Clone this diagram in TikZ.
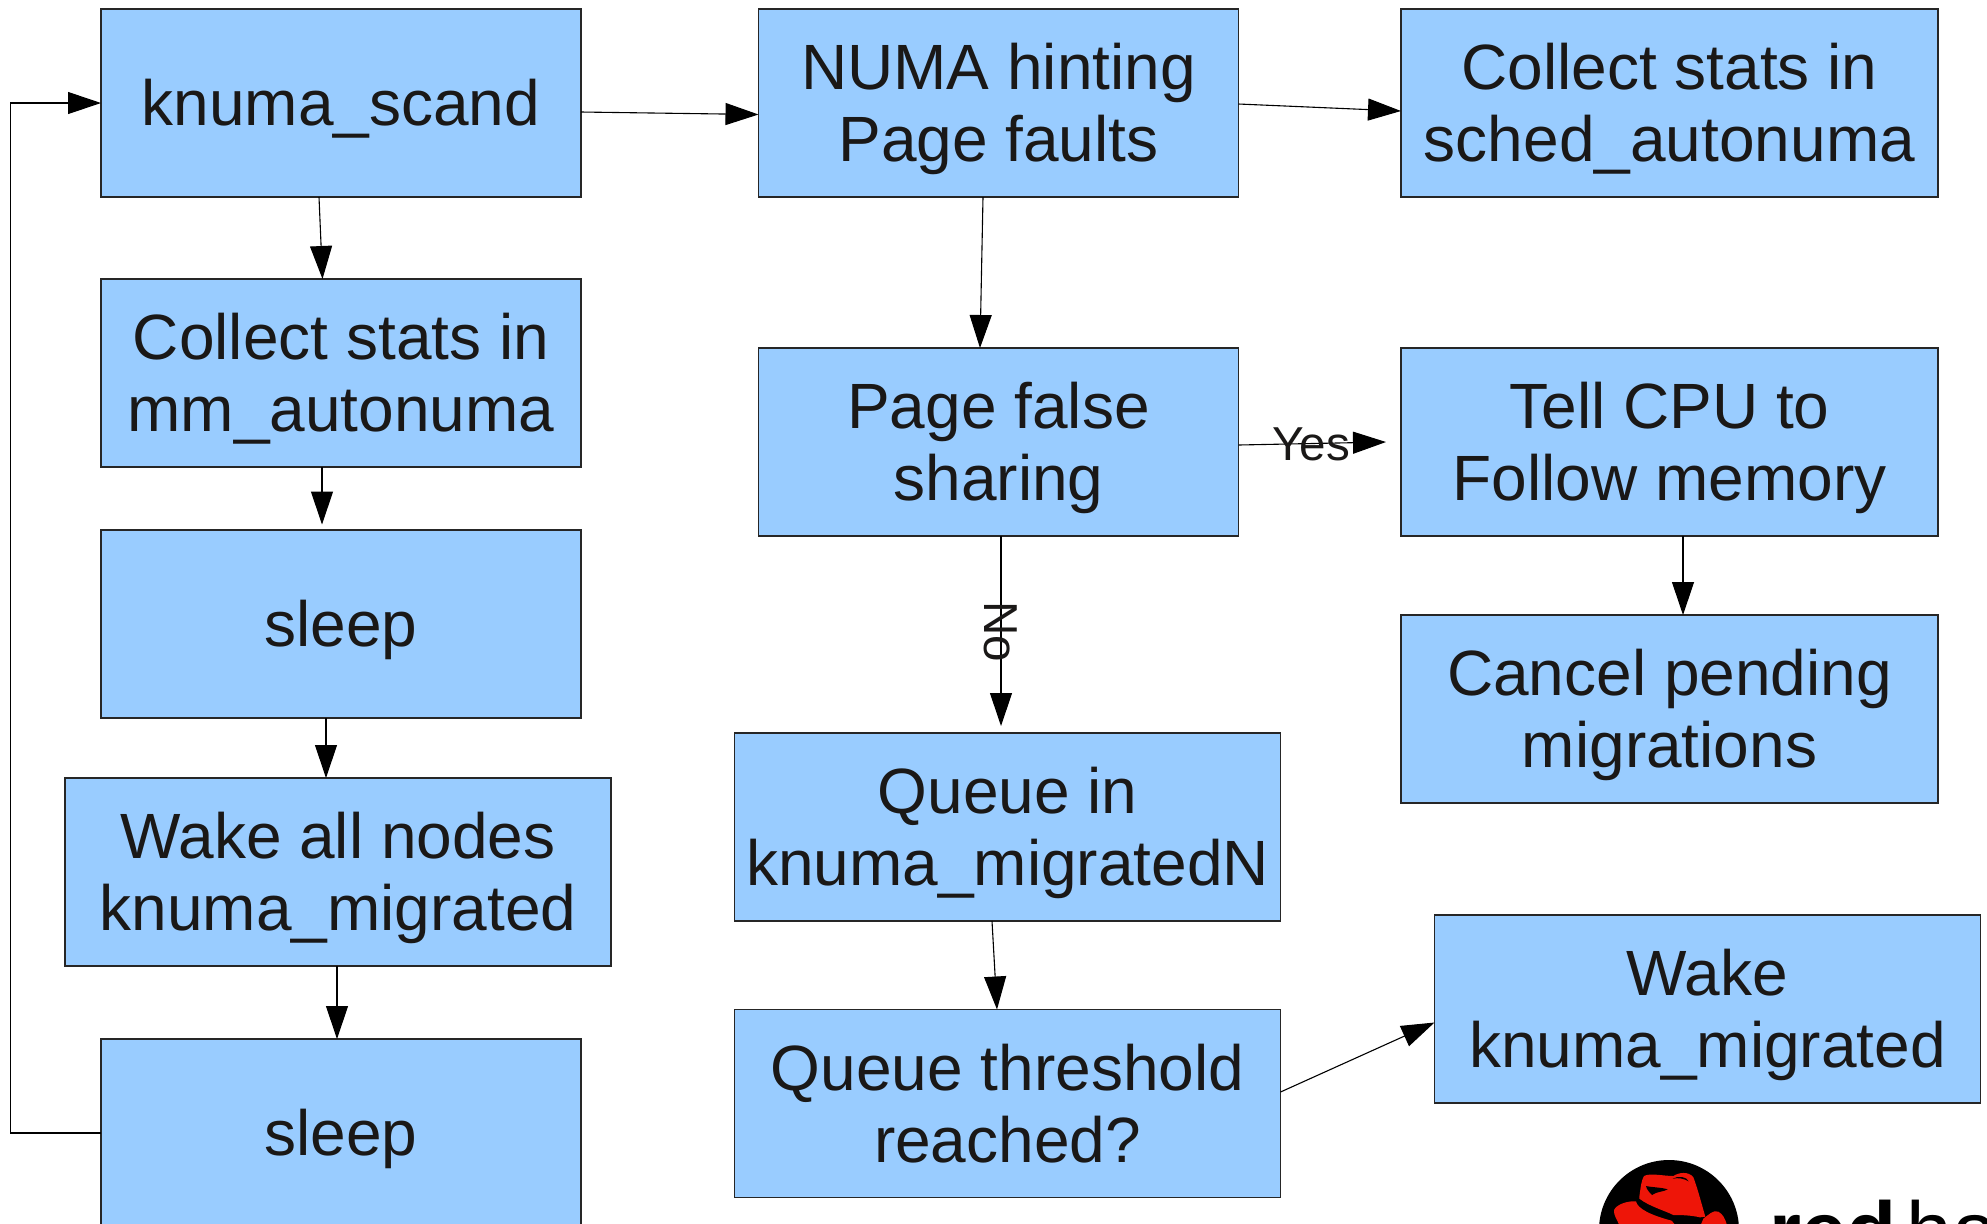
\documentclass[tikz,border=0pt]{standalone}
\usepackage{fontspec}
\setmainfont{Liberation Sans}
\usetikzlibrary{arrows.meta}
\definecolor{boxblue}{HTML}{99CCFF}
\definecolor{ink}{HTML}{1A1817}
\definecolor{hatred}{HTML}{EE1508}
\tikzset{
  box/.style={draw=black!85,line width=.65pt,fill=boxblue,text=ink,align=center,inner sep=0pt,outer sep=0pt,
    font=\fontsize{32}{36}\selectfont},
  lower/.style={text depth=0pt,yshift=0pt},
  wa/.style={minimum width=240pt,minimum height=94pt},
  wb/.style={minimum width=273pt,minimum height=94pt},
  wc/.style={minimum width=268.5pt,minimum height=94pt},
  arr/.style={draw=black,line width=.55pt,-{Triangle[length=16.5pt,width=11pt]}},
  lab/.style={text=ink,inner sep=0pt,font=\fontsize{23.8}{26}\selectfont},
  shifted/.style={label={[box,draw=none,fill=none,anchor=center,yshift=-3pt]center:#1}}
}
\begin{document}
\begin{tikzpicture}[x=.5pt,y=-.5pt]
\useasboundingbox (0,0) rectangle (1987,1223);
\clip (0,0) rectangle (1987,1223);
\fill[white] (0,0) rectangle (1987,1223);
% boxes (text sits 3pt below the box centre, as in the reference)
\node[box,wa,shifted={knuma\_scand}] (scand) at (341,103) {};
\node[box,wa,shifted={Collect stats in\\mm\_autonuma}] (mmstats) at (341,373) {};
\node[box,wa,shifted={sleep}] (sleepa) at (341,624) {};
\node[box,wb,shifted={Wake all nodes\\knuma\_migrated}] (wakeall) at (338,872) {};
\node[box,wa,shifted={sleep}] (sleepb) at (341,1133) {};
\node[box,wa,shifted={NUMA hinting\\Page faults}] (numa) at (998.5,103) {};
\node[box,wa,shifted={Page false\\sharing}] (false) at (998.5,442) {};
\node[box,wb,shifted={Queue in\\knuma\_migratedN}] (queue) at (1007.5,827) {};
\node[box,wb] (thresh) at (1007.5,1103.5) {Queue threshold\\reached?};
\node[box,wc,shifted={Collect stats in\\sched\_autonuma}] (sched) at (1669.5,103) {};
\node[box,wc,shifted={Tell CPU to\\Follow memory}] (tell) at (1669.5,442) {};
\node[box,wc,shifted={Cancel pending\\migrations}] (cancel) at (1669.5,709) {};
\node[box,wb,shifted={Wake\\knuma\_migrated}] (wake) at (1707.5,1009) {};
% connectors
\coordinate (loopx) at (10.5,600);
\draw[arr] (sleepb.west) -| (loopx) |- (scand.west);
\draw[arr] ([xshift=-11pt]scand.south) -- ([xshift=-9.25pt]mmstats.north);
\draw[arr] ([xshift=-9.5pt]mmstats.south) -- ([xshift=-9.5pt,yshift=2.75pt]sleepa.north);
\draw[arr] ([xshift=-7.5pt]sleepa.south) -- ([xshift=-6pt]wakeall.north);
\draw[arr] ([xshift=-.5pt]wakeall.south) -- ([xshift=-2pt]sleepb.north);
\draw[arr] ([yshift=-4.5pt]scand.east) -- ([yshift=-5.75pt]numa.west);
\draw[arr] ([yshift=-.5pt]numa.east) -- ([yshift=-4pt]sched.west);
\draw[arr] ([xshift=-7.75pt]numa.south) -- ([xshift=-9.25pt]false.north);
\draw[arr] ([yshift=-1.5pt]false.east) -- ([xshift=-7.5pt]tell.west);
\draw[arr] ([xshift=1.25pt]false.south) -- ([xshift=-3.25pt,yshift=3.5pt]queue.north);
\draw[arr] ([xshift=6.75pt]tell.south) -- ([xshift=6.75pt]cancel.north);
\draw[arr] ([xshift=-7.75pt]queue.south) -- ([xshift=-5.25pt]thresh.north);
\draw[arr] ([yshift=5.75pt]thresh.east) -- ([yshift=-6.75pt]wake.west);
% labels
\node[lab] (yes) at (1311,444) {Yes};
\node[lab,rotate=-90] (no) at (1001,632) {No};
% logo
\fill[black] (1669,1230) circle [radius=35pt];
\begin{scope}[shift={(1500,1100)},x=.16667pt,y=-.16667pt]
\fill[hatred] (418,290) .. controls (422,262) and (424,240) .. (432,228) .. controls (450,218) and (490,228) .. (520,228) .. controls (535,218) and (565,212) .. (580,232) .. controls (592,262) and (604,310) .. (616,350) -- (600,352) .. controls (570,345) and (540,345) .. (520,345) .. controls (490,330) and (450,320) .. (418,296) -- cycle;
\fill[black] (438,258) .. controls (455,262) and (485,262) .. (503,268) .. controls (490,276) and (470,274) .. (456,285) .. controls (450,278) and (440,270) .. (438,258) -- cycle;
\fill[black] (518,236) .. controls (535,226) and (560,230) .. (566,244) .. controls (552,236) and (535,232) .. (518,236) -- cycle;
\fill[hatred] (342,330) .. controls (350,312) and (385,302) .. (408,304) .. controls (412,325) and (450,345) .. (515,362) -- (530,380) -- (360,380) .. controls (352,360) and (340,345) .. (342,330) -- cycle;
\fill[hatred] (610,356) .. controls (625,345) and (640,328) .. (655,335) .. controls (668,342) and (676,355) .. (682,380) -- (600,380) -- cycle;
\end{scope}
\node[anchor=base west,inner sep=0pt,font=\fontsize{41}{41}\selectfont\bfseries] (red) at (1769,1259) {red};
\node[anchor=base west,inner sep=0pt,font=\fontsize{41}{41}\selectfont] (hat) at (1906,1259) {hat};
\end{tikzpicture}
\end{document}
